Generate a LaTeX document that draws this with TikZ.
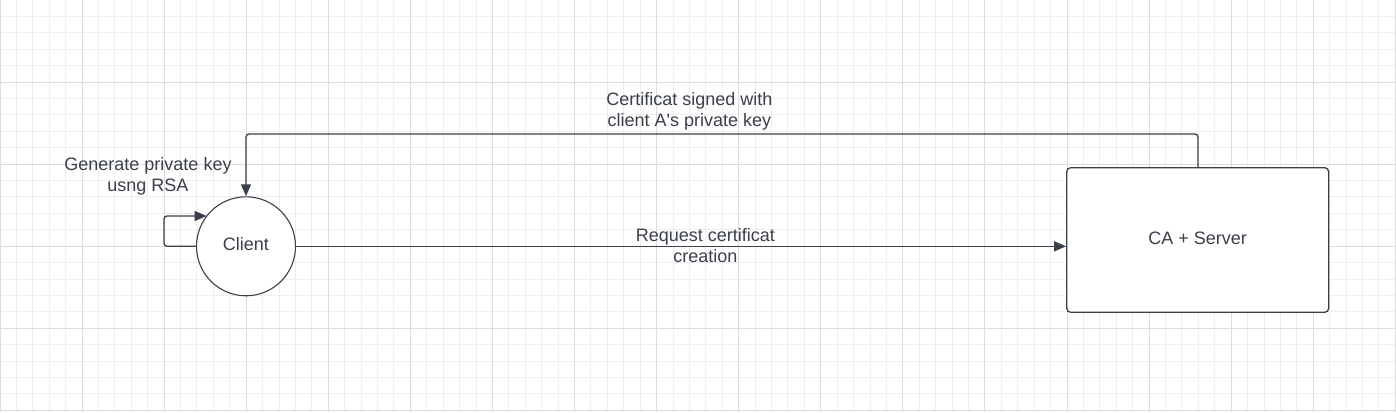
\documentclass[tikz,border=0pt]{standalone}
\usepackage{fontspec}
\setmainfont{Liberation Sans}[Ligatures=TeXOff]
\usetikzlibrary{arrows.meta}
\definecolor{ink}{HTML}{3A3F4A}
\definecolor{gridminor}{HTML}{EEEEEE}
\definecolor{gridmajor}{HTML}{DCDCDC}
\begin{document}
\begin{tikzpicture}[x=1pt,y=-1pt,
  lbl/.style={font=\fontsize{18}{21}\selectfont, text=ink, align=center, inner sep=0pt, anchor=base},
  conn/.style={draw=ink, line width=1.3pt, rounded corners=3pt},
  tip/.style={-{Triangle[length=12pt,width=10pt]}},
  circ/.style={circle, draw=ink, line width=1.1pt, fill=white, minimum size=99pt, inner sep=0pt},
  boxn/.style={rectangle, draw=ink, line width=1.3pt, fill=white, rounded corners=4pt, minimum width=262pt, minimum height=144.6pt, inner sep=0pt}]
\useasboundingbox (0,0) rectangle (1396,412);
\fill[white] (0,0) rectangle (1396,412);
\foreach \i in {0,...,85} {\draw[gridminor, line width=1pt] (\i*16.416,0) -- (\i*16.416,412);}
\foreach \j in {0,...,25} {\draw[gridminor, line width=1pt] (0,\j*16.416) -- (1396,\j*16.416);}
\foreach \i in {0,...,17} {\draw[gridmajor, line width=1pt] (\i*82.08,0) -- (\i*82.08,412);}
\foreach \j in {0,...,5} {\draw[gridmajor, line width=1pt] (0,\j*82.08) -- (1396,\j*82.08);}

\node[circ] (client) at (246,246.3) {};
\node[lbl] (clientt) at (246,250) {Client};
\node[boxn] (ca) at (1197.7,240) {};
\node[lbl] (cat) at (1197.7,244) {CA + Server};

\coordinate (l1) at (164,246.3);
\coordinate (l2) at (164,216);
\coordinate (l3) at (206.6,216);
\draw[conn, tip] (client.west) -- (l1) -- (l2) -- (l3);

\coordinate (t1) at (1198,134);
\coordinate (t2) at (246,134);
\draw[conn, tip] (ca.north -| t1) -- (t1) -- (t2) -- (client.north);

\draw[conn, tip] (client.east) -- (ca.west |- client.east);

\node[lbl] (gen) at (148,191.5) {Generate private key\\usng RSA};
\node[lbl] (cert) at (689.3,126) {Certificat signed with\\client A's private key};
\node[lbl] (req) at (705.3,262.5) {Request certificat\\creation};
\end{tikzpicture}
\end{document}
